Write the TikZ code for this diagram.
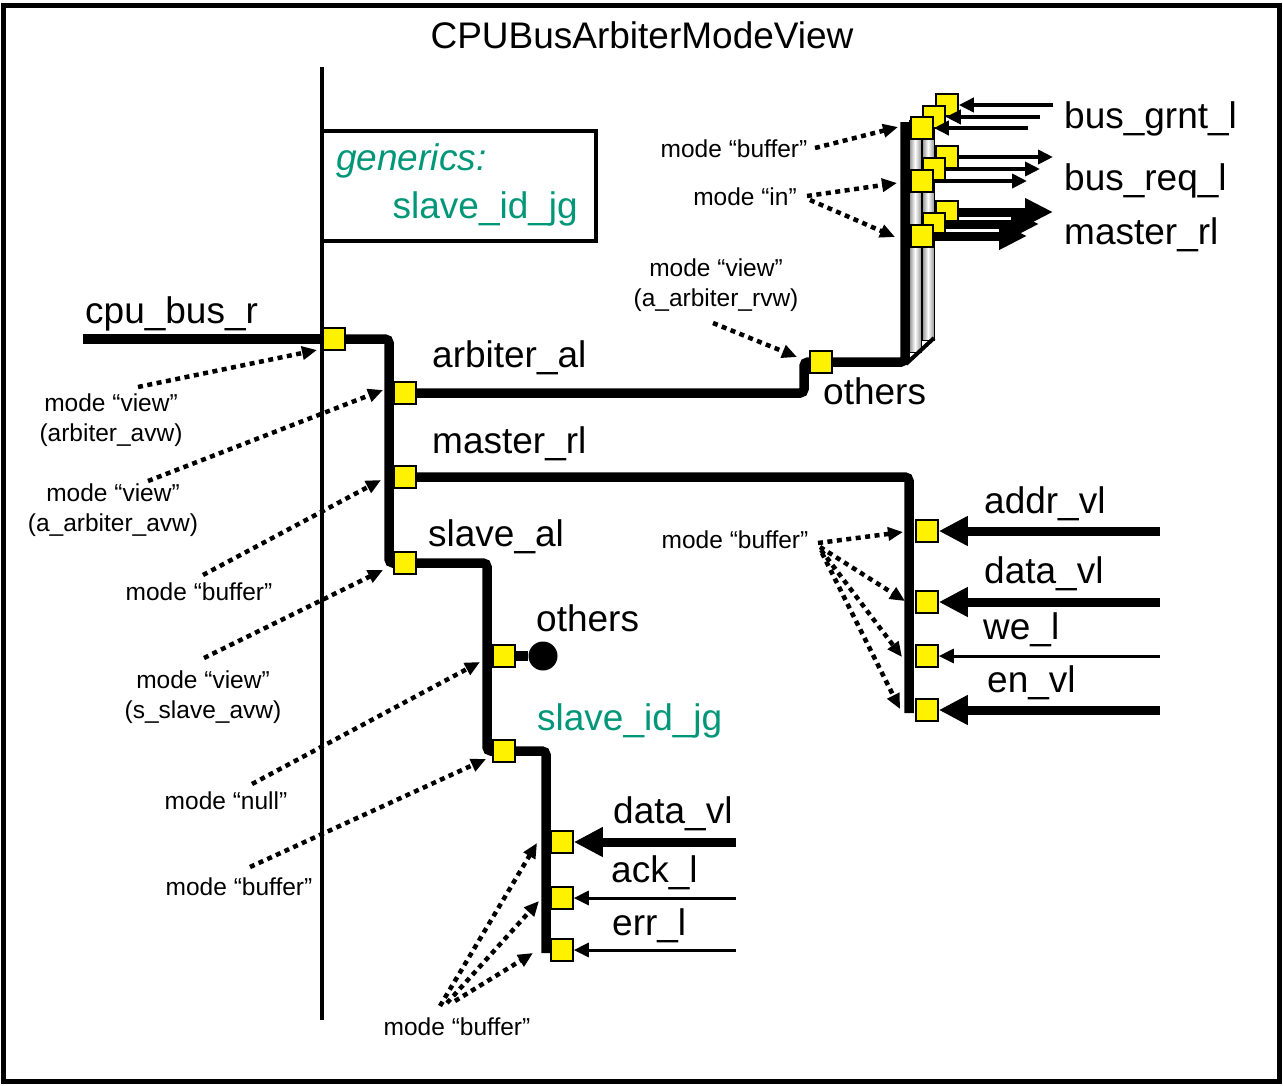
\documentclass[tikz,border=0pt]{standalone}
\usepackage{fontspec}
\setmainfont{Liberation Sans}
\usetikzlibrary{arrows.meta}
\definecolor{genteal}{RGB}{0,150,120}

\begin{document}
\begin{tikzpicture}[x=1pt, y=-1pt,
    port/.style = {draw, fill=yellow, line width=1.6pt, minimum size=22pt, inner sep=0pt},
    bus/.style = {line width=9.5pt, rounded corners=4pt},
    biglabel/.style = {font=\fontsize{37}{40}\selectfont, inner sep=0pt},
    smalllabel/.style = {font=\fontsize{24.5}{30}\selectfont, inner sep=0pt, align=center},
    modearrow/.style = {line width=4.5pt, dash pattern=on 5pt off 4.5pt, -{Triangle[length=15pt,width=13pt]}},
    sigwide/.style = {line width=9pt, -{Triangle[length=29pt,width=28pt]}},
    sigthin/.style = {line width=3pt, -{Triangle[length=15pt,width=14pt]}},
    sigmid/.style = {line width=4pt, -{Triangle[length=15pt,width=14pt]}},
    sigfat/.style = {line width=9pt, -{Triangle[length=28pt,width=26pt]}},
    tube/.style = {line width=0.6pt, left color=gray!90, right color=gray!80, middle color=white}]
    \useasboundingbox (0,0) rectangle (1283,1085);
    \draw[line width=5pt] (3.5,5) rectangle (1279.5,1081);
    \node[biglabel, anchor=base] (title) at (642,48) {CPUBusArbiterModeView};

    \draw[line width=4pt] (322,67) -- (322,1020);
    \draw[line width=4pt] (322,131) rectangle (596,241);
    \node[biglabel, anchor=base west, text=genteal, font=\fontsize{37}{40}\selectfont\itshape] (gen) at (336,170) {generics:};
    \node[biglabel, anchor=base east, text=genteal] (genid) at (578,218) {slave\_id\_jg};

    \shadedraw[tube] (909,120) rectangle (921,352);
    \shadedraw[tube] (922,110) rectangle (934,340);
    \draw[line width=4pt] (906,364) -- (934,338);

    \node[port] (p0) at (334,339) {};
    \node[port] (pa) at (405,393) {};
    \node[port] (pm) at (405,477) {};
    \node[port] (ps) at (405,563) {};
    \node[port] (po) at (821,362) {};
    \node[port] (gb) at (947,105) {};
    \node[port] (rb) at (947,157) {};
    \node[port] (mb) at (947,212) {};
    \node[port] (gm) at (934,117) {};
    \node[port] (rm) at (934,169) {};
    \node[port] (mm) at (934,224) {};
    \node[port] (gf) at (922,128) {};
    \node[port] (rf) at (922,181) {};
    \node[port] (mf) at (922,236) {};
    \node[port] (pad) at (927,531) {};
    \node[port] (pdt) at (927,602) {};
    \node[port] (pwe) at (927,656) {};
    \node[port] (pen) at (927,710) {};
    \node[port] (pso) at (504,656) {};
    \node[port] (psj) at (504,751) {};
    \node[port] (sdt) at (562,842) {};
    \node[port] (sak) at (562,898) {};
    \node[port] (ser) at (562,950) {};
    \node[circle, fill=black, minimum size=29pt, inner sep=0pt] (odot) at (543,656) {};

    \coordinate (cpusrc) at (83,339);
    \coordinate (ja) at (389,393);
    \coordinate (jm) at (389,477);
    \coordinate (jo) at (487,656);
    \draw[bus] (cpusrc) -- (p0);
    \draw[bus] (p0) -- (389,339) -- (389,563) -- (ps);
    \draw[bus] (ja) -- (pa);
    \draw[bus] (jm) -- (pm);
    \draw[bus] (pa) -- (804,393) -- (804,362) -- (po);
    \draw[bus] (po) -- (905,362) -- (905,122);
    \draw[bus] (pm) -- (909,477) -- (909,713);
    \draw[bus] (ps) -- (487,563) -- (487,751) -- (psj);
    \draw[bus] (jo) -- (pso);
    \draw[bus] (pso) -- (odot);
    \draw[bus] (psj) -- (546,751) -- (546,953);

    \coordinate (gbsrc) at (1053,105);
    \coordinate (gmsrc) at (1040,117);
    \coordinate (gfsrc) at (1028,128);
    \coordinate (rbdst) at (1053,157);
    \coordinate (rmdst) at (1040,169);
    \coordinate (rfdst) at (1027,181);
    \coordinate (mbdst) at (1053,212);
    \coordinate (mmdst) at (1039,224);
    \coordinate (mfdst) at (1027,236);
    \draw[sigmid] (gbsrc) -- (gb);
    \draw[sigmid] (rb) -- (rbdst);
    \draw[sigfat] (mb) -- (mbdst);
    \draw[sigmid] (gmsrc) -- (gm);
    \draw[sigmid] (rm) -- (rmdst);
    \draw[sigfat] (mm) -- (mmdst);
    \draw[sigmid] (gfsrc) -- (gf);
    \draw[sigmid] (rf) -- (rfdst);
    \draw[sigfat] (mf) -- (mfdst);

    \coordinate (addrsrc) at (1160,531);
    \coordinate (datasrc) at (1160,602);
    \coordinate (wesrc) at (1160,656);
    \coordinate (ensrc) at (1160,710);
    \draw[sigwide] (addrsrc) -- (pad);
    \draw[sigwide] (datasrc) -- (pdt);
    \draw[sigthin] (wesrc) -- (pwe);
    \draw[sigwide] (ensrc) -- (pen);
    \coordinate (sdtsrc) at (736,842);
    \coordinate (saksrc) at (736,898);
    \coordinate (sersrc) at (736,950);
    \draw[sigwide] (sdtsrc) -- (sdt);
    \draw[sigthin] (saksrc) -- (sak);
    \draw[sigthin] (sersrc) -- (ser);

    \node[biglabel, anchor=base west] (cpu) at (85,323) {cpu\_bus\_r};
    \node[biglabel, anchor=base west] (arb) at (432,367) {arbiter\_al};
    \node[biglabel, anchor=base west] (mst) at (432,453) {master\_rl};
    \node[biglabel, anchor=base west] (slv) at (428,546) {slave\_al};
    \node[biglabel, anchor=base west] (oth1) at (823,404) {others};
    \node[biglabel, anchor=base west] (oth2) at (536,631) {others};
    \node[biglabel, anchor=base west, text=genteal] (sid) at (537,730) {slave\_id\_jg};
    \node[biglabel, anchor=base west] (sdtl) at (613,823) {data\_vl};
    \node[biglabel, anchor=base west] (sakl) at (611,882) {ack\_l};
    \node[biglabel, anchor=base west] (serl) at (612,935) {err\_l};
    \node[biglabel, anchor=base west] (addrl) at (984,513) {addr\_vl};
    \node[biglabel, anchor=base west] (datal) at (984,583) {data\_vl};
    \node[biglabel, anchor=base west] (wel) at (983,639) {we\_l};
    \node[biglabel, anchor=base west] (enl) at (987,692) {en\_vl};
    \node[biglabel, anchor=base west] (grnt) at (1064,128) {bus\_grnt\_l};
    \node[biglabel, anchor=base west] (req) at (1064,190) {bus\_req\_l};
    \node[biglabel, anchor=base west] (mrl) at (1064,244) {master\_rl};

    \node[smalllabel, anchor=north] (m1) at (111,394) {mode “view”\\(arbiter\_avw)};
    \node[smalllabel, anchor=north] (m2) at (113,484) {mode “view”\\(a\_arbiter\_avw)};
    \node[smalllabel, anchor=base] (m3) at (199,600) {mode “buffer”};
    \node[smalllabel, anchor=north] (m4) at (203,671) {mode “view”\\(s\_slave\_avw)};
    \node[smalllabel, anchor=base] (m5) at (226,809) {mode “null”};
    \node[smalllabel, anchor=base] (m6) at (239,895) {mode “buffer”};
    \node[smalllabel, anchor=base] (m7) at (457,1035) {mode “buffer”};
    \node[smalllabel, anchor=base] (m8) at (734,157) {mode “buffer”};
    \node[smalllabel, anchor=base] (m9) at (745,205) {mode “in”};
    \node[smalllabel, anchor=north] (m10) at (716,259) {mode “view”\\(a\_arbiter\_rvw)};
    \node[smalllabel, anchor=base] (m11) at (735,548) {mode “buffer”};

    \coordinate (s1) at (138,387);  \coordinate (t1) at (317,350);
    \coordinate (s2) at (148,481);  \coordinate (t2) at (383,390);
    \coordinate (s3) at (203,575);  \coordinate (t3) at (381,480);
    \coordinate (s4) at (204,658);  \coordinate (t4) at (383,570);
    \coordinate (s5) at (252,784);  \coordinate (t5) at (480,662);
    \coordinate (s6) at (250,867);  \coordinate (t6) at (486,759);
    \coordinate (s7) at (440,1006); \coordinate (t7) at (537,843);
    \coordinate (s8) at (447,1003); \coordinate (t8) at (539,901);
    \coordinate (s9) at (455,1001); \coordinate (t9) at (533,953);
    \coordinate (s10) at (815,148); \coordinate (t10) at (898,127);
    \coordinate (s11) at (807,196); \coordinate (t11) at (897,183);
    \coordinate (s12) at (810,200); \coordinate (t12) at (895,237);
    \coordinate (s13) at (713,323); \coordinate (t13) at (797,357);
    \coordinate (s14) at (818,543); \coordinate (t14) at (903,532);
    \coordinate (s15) at (820,547); \coordinate (t15) at (905,601);
    \coordinate (s16) at (821,550); \coordinate (t16) at (902,657);
    \coordinate (s17) at (822,553); \coordinate (t17) at (900,709);
    \draw[modearrow] (s1) -- (t1);
    \draw[modearrow] (s2) -- (t2);
    \draw[modearrow] (s3) -- (t3);
    \draw[modearrow] (s4) -- (t4);
    \draw[modearrow] (s5) -- (t5);
    \draw[modearrow] (s6) -- (t6);
    \draw[modearrow] (s7) -- (t7);
    \draw[modearrow] (s8) -- (t8);
    \draw[modearrow] (s9) -- (t9);
    \draw[modearrow] (s10) -- (t10);
    \draw[modearrow] (s11) -- (t11);
    \draw[modearrow] (s12) -- (t12);
    \draw[modearrow] (s13) -- (t13);
    \draw[modearrow] (s14) -- (t14);
    \draw[modearrow] (s15) -- (t15);
    \draw[modearrow] (s16) -- (t16);
    \draw[modearrow] (s17) -- (t17);
\end{tikzpicture}
\end{document}
